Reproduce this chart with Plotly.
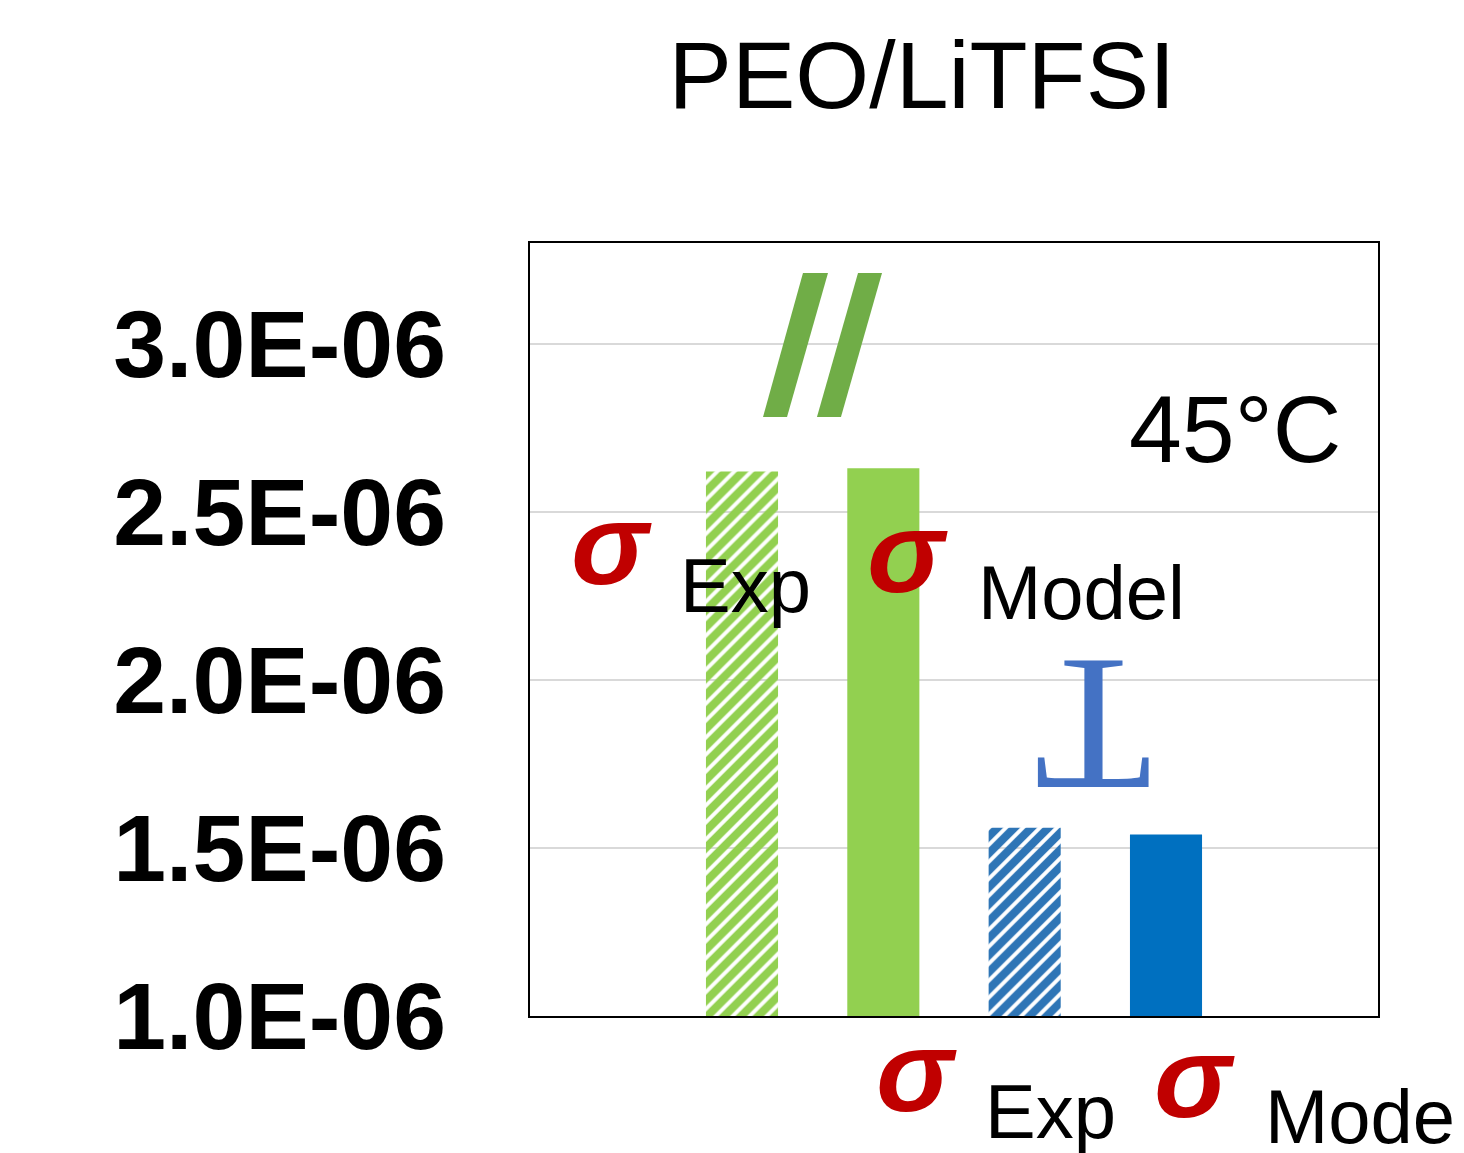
import plotly.graph_objects as go

# ---- data ----
categories = ["σ Exp", "σ Model", "σ Exp ⊥", "σ Model ⊥"]
conductivity = [2.62e-6, 2.63e-6, 1.56e-6, 1.54e-6]
bar_colors = ["#92D050", "#92D050", "#2E75B6", "#0070C0"]
bar_patterns = ["/", "", "/", ""]
tick_values = [1.0e-6, 1.5e-6, 2.0e-6, 2.5e-6, 3.0e-6]
tick_labels = ["1.0E-06", "1.5E-06", "2.0E-06", "2.5E-06", "3.0E-06"]

W, H = 1464, 1153
OFF = 8  # page body margin
L, R, T, B = 530, 1378, 243, 1016  # plot area in page pixels


def px(x):
    return (x - L) / (R - L)


def py(y):
    return (B - y) / (B - T)


fig = go.Figure()
fig.add_trace(go.Bar(
    x=categories,
    y=conductivity,
    width=0.51,
    marker=dict(
        color=bar_colors,
        line=dict(width=0),
        pattern=dict(shape=bar_patterns, fgcolor=bar_colors,
                     bgcolor="white", size=12, solidity=0.68, fillmode="replace"),
    ),
    showlegend=False,
    hoverinfo="skip",
))

fig.update_layout(
    width=W, height=H,
    margin=dict(l=L - OFF, r=W - R + OFF, t=T - OFF, b=H - B + OFF, pad=0),
    paper_bgcolor="white",
    plot_bgcolor="white",
    font=dict(family="Liberation Sans, Arial, sans-serif", color="black"),
    title=dict(text="PEO/LiTFSI", x=(922 - OFF) / W, xanchor="center",
               y=1 - (75 - OFF) / H, yanchor="middle", yref="container",
               font=dict(size=95, family="Liberation Sans, Arial")),
    xaxis=dict(range=[-1.5, 4.5], showticklabels=False, ticks="",
               showgrid=False, showline=True, mirror=True,
               linecolor="black", linewidth=2, zeroline=False),
    yaxis=dict(range=[1.0e-6, 3.3e-6], tickvals=tick_values, ticktext=tick_labels,
               tickfont=dict(size=95, family="Liberation Sans, Arial", weight="bold"),
               ticks="", ticklabelstandoff=63,
               showgrid=True, gridcolor="#D9D9D9", gridwidth=1.5,
               showline=True, mirror=True, linecolor="black", linewidth=2,
               zeroline=False),
)

sigma_font = dict(size=116, family="Liberation Sans, Arial", color="#C00000")
word_font = dict(size=76, family="Liberation Sans, Arial", color="black")

anns = [
    dict(text="<b><i>σ</i></b>", x=px(611), y=py(544), font=sigma_font),
    dict(text="Exp", x=px(745), y=py(585), font=word_font),
    dict(text="<b><i>σ</i></b>", x=px(907), y=py(552), font=sigma_font),
    dict(text="Model", x=px(1081), y=py(592), font=word_font),
    dict(text="45°C", x=px(1235), y=py(429), font=dict(size=95, family="Liberation Sans, Arial", color="black")),
    dict(text="T", x=px(1094), y=py(726), textangle=180,
         font=dict(size=192, family="Liberation Serif, Times New Roman, serif", color="#4472C4")),
    dict(text="<b><i>σ</i></b>", x=px(916), y=py(1071), font=sigma_font),
    dict(text="Exp", x=px(1050), y=py(1111), font=word_font),
    dict(text="<b><i>σ</i></b>", x=px(1194), y=py(1077), font=sigma_font),
    dict(text="Model", x=px(1263), y=py(1116), xanchor="left", font=word_font),
]
for a in anns:
    a.setdefault("xanchor", "center")
    fig.add_annotation(xref="paper", yref="paper", yanchor="middle",
                       showarrow=False, **a)

# green "//" break marks
slashes = [
    [(803, 273), (828, 273), (787, 417), (763, 417)],
    [(858, 273), (882, 273), (841, 417), (817, 417)],
]
for pts in slashes:
    path = "M " + " L ".join(f"{px(x):.4f},{py(y):.4f}" for x, y in pts) + " Z"
    fig.add_shape(type="path", xref="paper", yref="paper", path=path,
                  fillcolor="#70AD47", line=dict(width=0))

fig.write_html("out.html")
